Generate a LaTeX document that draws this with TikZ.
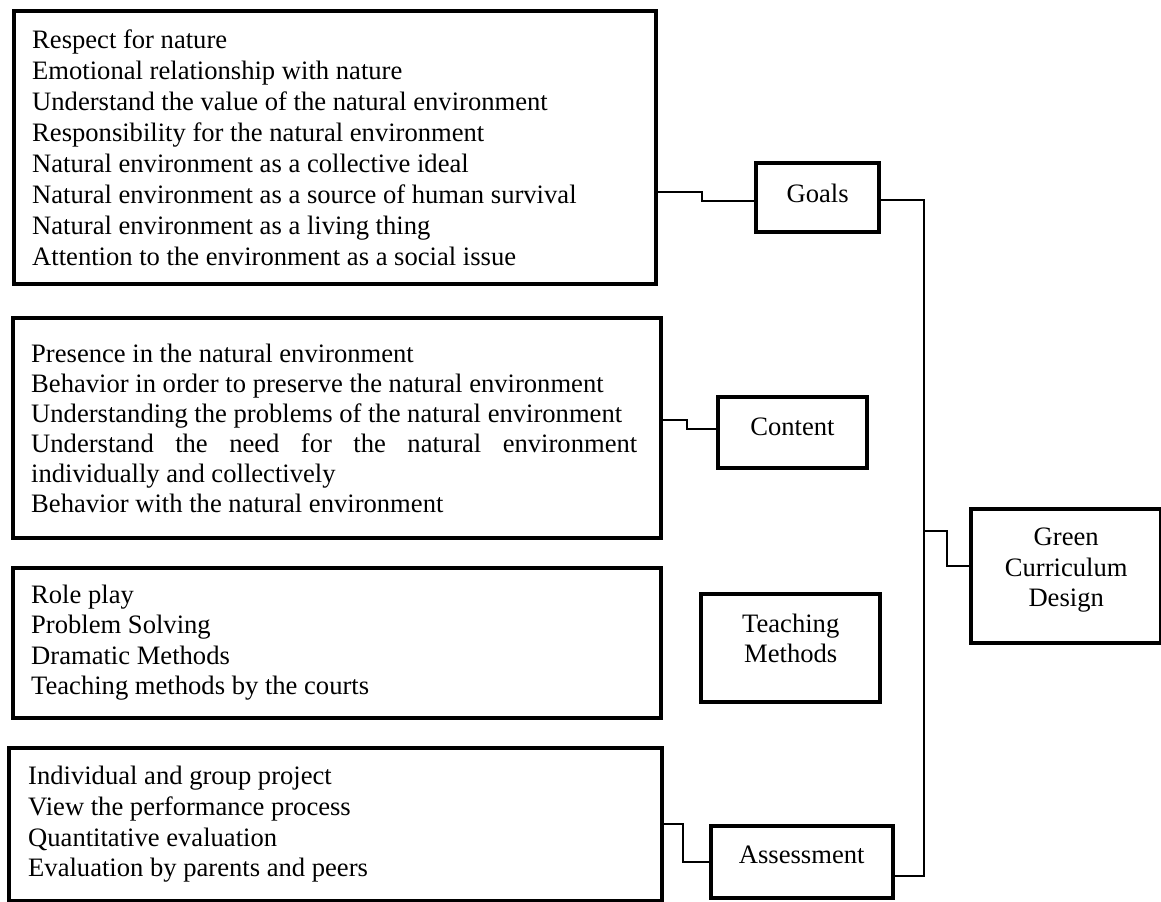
\documentclass[tikz,border=0pt]{standalone}
\usepackage{fontspec}
\setmainfont{Liberation Serif}

\begin{document}
\begin{tikzpicture}[x=.5pt,y=-.5pt,
		every node/.style={font=\fontsize{13.3}{15.3}\selectfont},
		listbox/.style={draw,line width=2.2pt,anchor=north west,align=flush left,inner xsep=9pt,inner ysep=0pt},
		hubbox/.style={draw,line width=2.2pt,anchor=north west,align=flush center,inner sep=0pt},
		link/.style={line width=.75pt}]
		\useasboundingbox (0,0) rectangle (1161,901);
		% the four lists on the left
		\node [listbox,text width=303pt,minimum height=136.75pt,font=\fontsize{13.3}{15.5}\selectfont] (goallist) at (12,8.5) {Respect for nature\\
			Emotional relationship with nature\\
			Understand the value of the natural environment\\
			Responsibility for the natural environment\\
			Natural environment as a collective ideal\\
			Natural environment as a source of human survival\\
			Natural environment as a living thing\\
			Attention to the environment as a social issue};
		\node [listbox,text width=306pt,minimum height=110.25pt,font=\fontsize{13.3}{15}\selectfont] (contlist) at (11,315.5) {Presence in the natural environment\\
			Behavior in order to preserve the natural environment\\
			Understanding the problems of the natural environment\\
			\makebox[303pt][s]{Understand the need for the natural environment}\\
			individually and collectively\\
			Behavior with the natural environment};
		\node [listbox,text width=306pt,minimum height=75pt] (teachlist) at (11,565.5) {Role play\\
			Problem Solving\\
			Dramatic Methods\\
			Teaching methods by the courts};
		\node [listbox,inner xsep=9.5pt,text width=307.25pt,minimum height=76.75pt] (assesslist) at (7,745.5) {Individual and group project\\
			View the performance process\\
			Quantitative evaluation\\
			Evaluation by parents and peers};
		% the headings
		\node [hubbox,minimum width=61.5pt,minimum height=34.5pt,text depth=4.5pt] (goals) at (754,161) {Goals};
		\node [hubbox,minimum width=74.75pt,minimum height=35.25pt,text depth=5.75pt] (content) at (715.5,395) {Content};
		\node [hubbox,minimum width=89.5pt,minimum height=54pt,text depth=10pt] (teach) at (699,592) {Teaching\\Methods};
		\node [hubbox,minimum width=91pt,minimum height=36pt,text depth=7.3pt] (assess) at (708.5,823.5) {Assessment};
		\node [hubbox,minimum width=95pt,minimum height=67pt,text depth=9pt] (green) at (969,507) {Green\\Curriculum\\Design};
		% connectors
		\draw [link] (goallist.east |- 0,192) -| (702,201) -- (goals.west |- 0,201);
		\draw [link] (contlist.east |- 0,420) -| (687,429) -- (content.west |- 0,429);
		\draw [link] (assesslist.east |- 0,824) -| (683,862) -- (assess.west |- 0,862);
		\draw [link] (goals.east |- 0,200) -| (924,876) -- (assess.east |- 0,876);
		\coordinate (spine) at (924,531);
		\draw [link] (spine) -| (947,566) -- (green.west |- 0,566);
	\end{tikzpicture}
\end{document}
